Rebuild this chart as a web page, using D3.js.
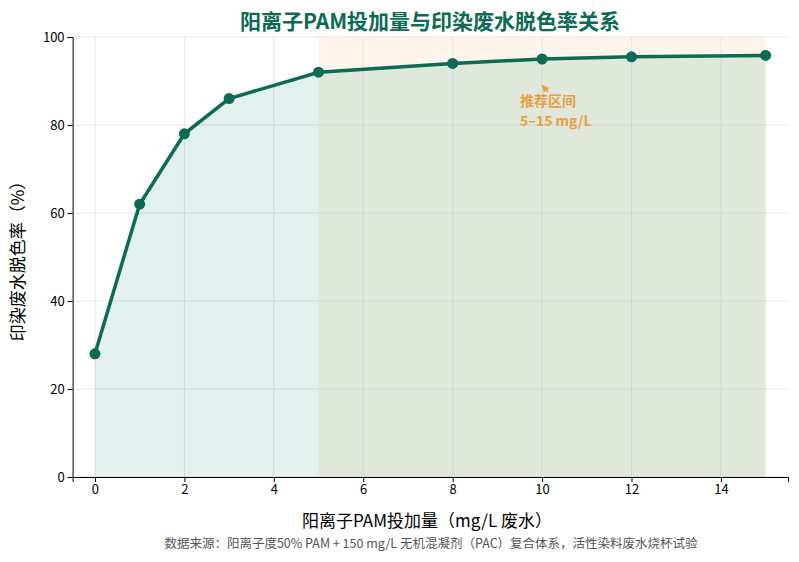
<!DOCTYPE html><html><head><meta charset="utf-8"><script src="https://cdn.jsdelivr.net/npm/d3@7"></script>
<style>body{margin:0;background:#fff}text{font-family:"Noto Sans CJK SC","Open Sans",sans-serif}</style></head><body>
<svg id="c" width="799" height="562"></svg>
<script>
const doses=[0,1,2,3,5,8,10,12,15];
const rates=[28,62,78,86,92,94,95,95.5,95.8];
const xTicks=[0,2,4,6,8,10,12,14];
const yTicks=[0,20,40,60,80,100];
const svg=d3.select("#c");
const m={l:72.6,r:788,t:37,b:477};
const x=d3.scaleLinear().domain([-0.5,15.5]).range([m.l,m.r]);
const y=d3.scaleLinear().domain([0,100]).range([m.b,m.t]);
const g=svg.append("g");
g.append("rect").attr("x",x(5)).attr("width",x(15)-x(5)).attr("y",y(100)).attr("height",y(0)-y(100)).attr("fill","#fdf3e7").attr("opacity",0.8);
xTicks.forEach(t=>g.append("line").attr("x1",x(t)).attr("x2",x(t)).attr("y1",m.t).attr("y2",m.b).attr("stroke","#e6e6e6"));
yTicks.forEach(t=>g.append("line").attr("x1",m.l).attr("x2",m.r).attr("y1",y(t)).attr("y2",y(t)).attr("stroke","#e6e6e6"));
g.append("path").datum(doses.map((d,i)=>[d,rates[i]])).attr("d",d3.area().x(d=>x(d[0])).y0(y(0)).y1(d=>y(d[1]))).attr("fill","#0e8a6a").attr("opacity",0.12);
g.append("path").datum(doses.map((d,i)=>[d,rates[i]])).attr("d",d3.line().x(d=>x(d[0])).y(d=>y(d[1]))).attr("fill","none").attr("stroke","#0b6b55").attr("stroke-width",3.5);
g.selectAll("circle").data(doses).enter().append("circle").attr("cx",d=>x(d)).attr("cy",(d,i)=>y(rates[i])).attr("r",5.5).attr("fill","#0b6b55");
svg.append("g").attr("transform",`translate(0,${m.b})`).call(d3.axisBottom(x).tickValues(xTicks).tickSize(5)).call(a=>a.selectAll("text").attr("font-size",13).attr("fill","#000"));
svg.append("g").attr("transform",`translate(${m.l},0)`).call(d3.axisLeft(y).tickValues(yTicks).tickSize(5)).call(a=>a.selectAll("text").attr("font-size",13).attr("fill","#000"));
svg.selectAll(".domain").attr("stroke","#000");
svg.append("defs").append("marker").attr("id","ar").attr("viewBox","0 0 10 10").attr("refX",9).attr("refY",5).attr("markerWidth",5).attr("markerHeight",5).attr("orient","auto").append("path").attr("d","M0,0L10,5L0,10z").attr("fill","#e8a040");
svg.append("line").attr("x1",x(10)+6).attr("y1",y(87.5)).attr("x2",x(10)).attr("y2",y(89)).attr("stroke","#e8a040").attr("stroke-width",1.5).attr("marker-end","url(#ar)");
svg.append("text").attr("x",520).attr("y",106).attr("font-size",14).attr("font-weight","bold").attr("fill","#e8a040").text("推荐区间");
svg.append("text").attr("x",520).attr("y",126).attr("font-size",14).attr("font-weight","bold").attr("fill","#e8a040").text("5–15 mg/L");
svg.append("text").attr("x",430).attr("y",29).attr("text-anchor","middle").attr("font-size",21).attr("font-weight","bold").attr("fill","#0b6b55").text("阳离子PAM投加量与印染废水脱色率关系");
svg.append("text").attr("x",427).attr("y",527).attr("text-anchor","middle").attr("font-size",17).attr("fill","#000").text("阳离子PAM投加量（mg/L 废水）");
svg.append("text").attr("transform","translate(24,257) rotate(-90)").attr("text-anchor","middle").attr("font-size",17).attr("fill","#000").text("印染废水脱色率（%）");
svg.append("text").attr("x",431).attr("y",548).attr("text-anchor","middle").attr("font-size",12.5).attr("fill","#555").text("数据来源：阳离子度50% PAM + 150 mg/L 无机混凝剂（PAC）复合体系，活性染料废水烧杯试验");
</script></body></html>
